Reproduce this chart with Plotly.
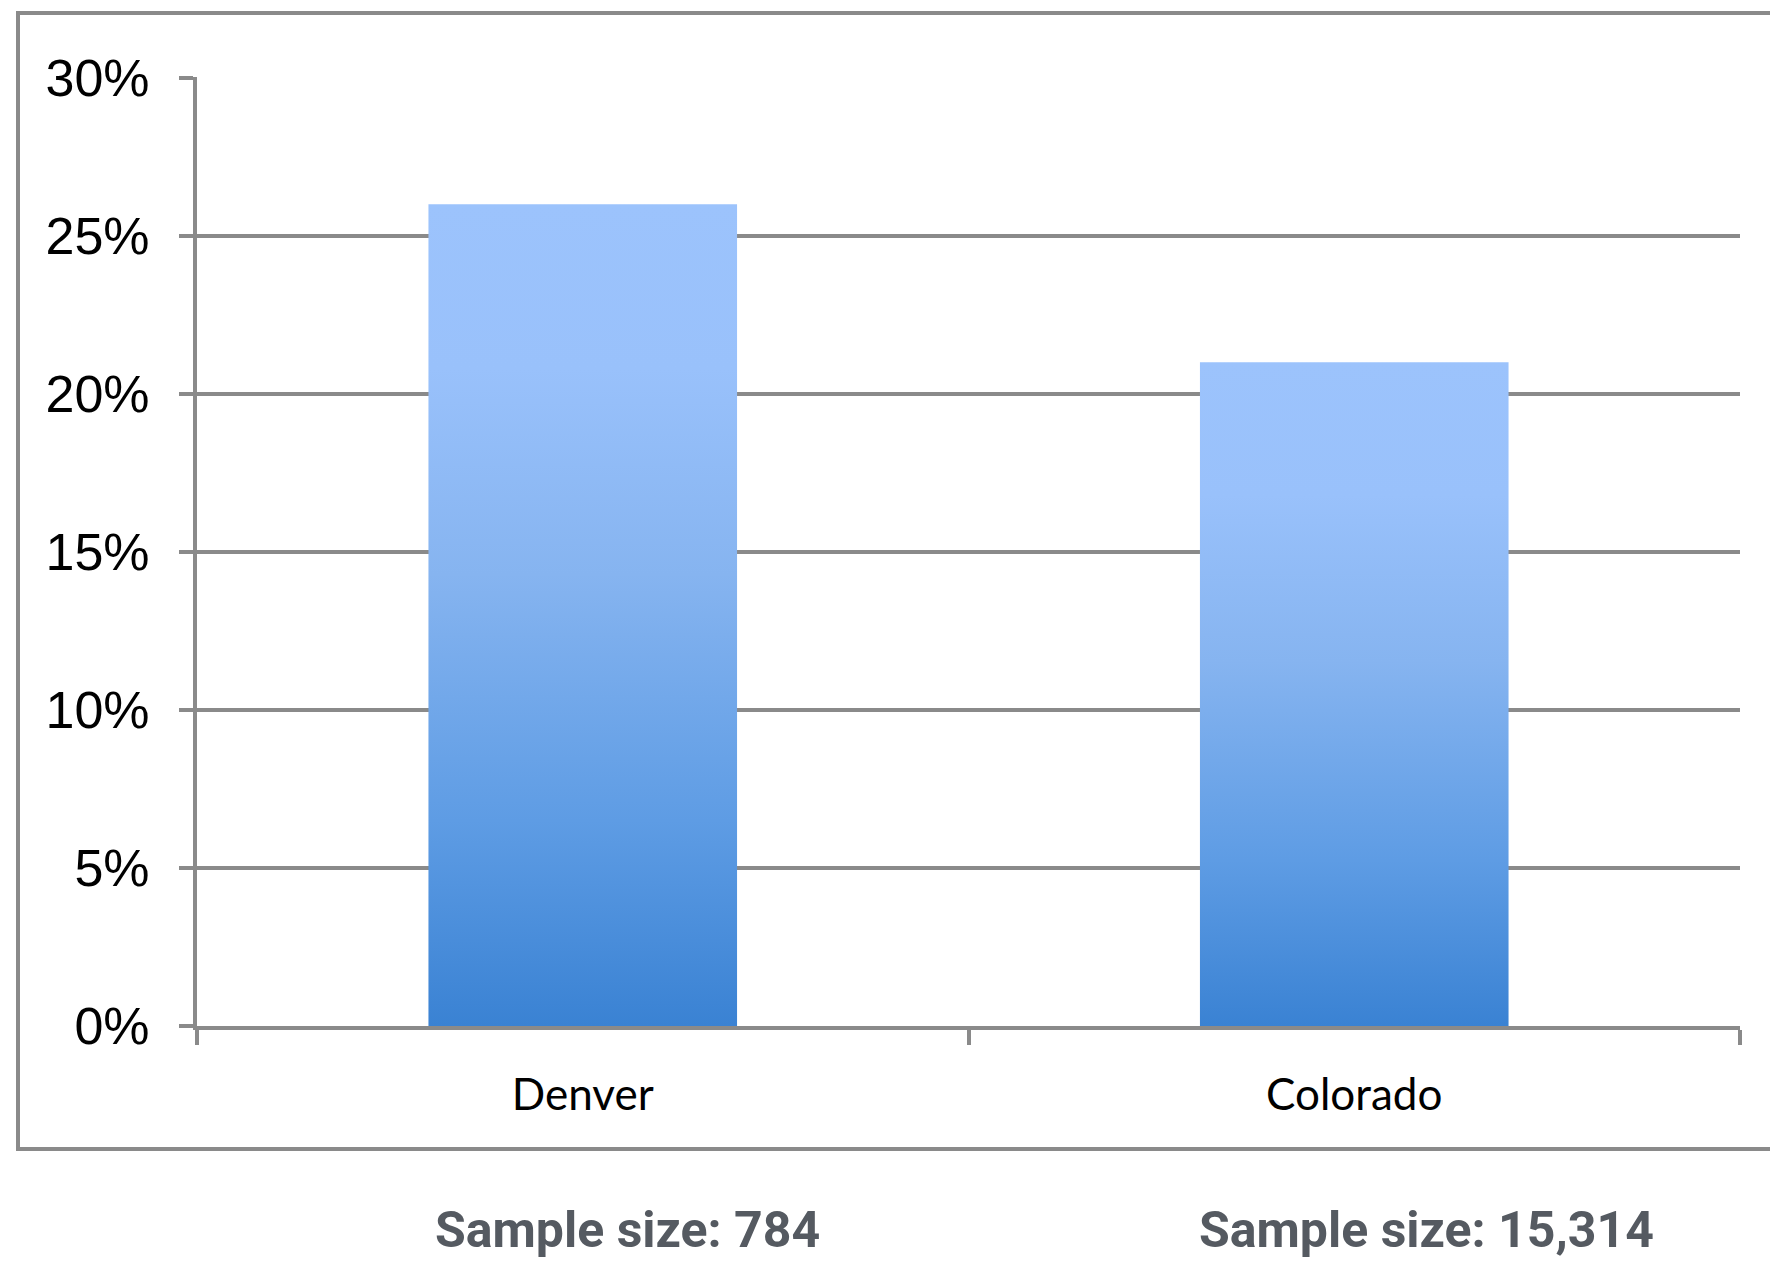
import plotly.graph_objects as go

# ---- data ----
categories = ["Denver", "Colorado"]
values = [26.0, 21.0]
sample_sizes = ["784", "15,314"]
y_ticks = [0, 5, 10, 15, 20, 25, 30]
y_tick_labels = [f"{v}%" for v in y_ticks]

OFF = 8  # page body margin
PW, PH = 1778, 1263
W, H = PW - OFF, PH - OFF
L, R, T, B = 197, 38, 77, 237   # in page pixels
pw, ph = PW - L - R, PH - T - B

def px_x(px):
    return (px - L) / pw

def px_y(py):
    return (PH - B - py) / ph

GRAY = "#8a8a8a"
bar_half = 0.2
grad = [[0.0, "#3a82d3"], [0.25, "#5e9ce4"], [0.55, "#86b4f0"], [0.8, "#99c1fb"], [1.0, "#9cc3fc"]]

fig = go.Figure()
for i, (c, v) in enumerate(zip(categories, values)):
    xs = [i - bar_half, i + bar_half, i + bar_half, i - bar_half, i - bar_half]
    ys = [0, 0, v, v, 0]
    fig.add_trace(go.Scatter(
        x=xs, y=ys, mode="lines", fill="toself",
        line=dict(width=0, color="rgba(0,0,0,0)"),
        fillgradient=dict(type="vertical", colorscale=grad, start=0, stop=v),
        name=c, hoverinfo="skip", showlegend=False,
    ))

fig.update_xaxes(
    range=[-0.5, len(categories) - 0.5],
    tickvals=list(range(len(categories))), ticktext=categories,
    ticks="", showgrid=False, zeroline=False,
    showline=True, linecolor=GRAY, linewidth=4,
    tickfont=dict(family="Lato", size=44, color="black"),
    ticklabelstandoff=27,
    minor=dict(tickvals=[i - 0.5 for i in range(len(categories) + 1)],
               ticks="outside", ticklen=15, tickwidth=4, tickcolor=GRAY, showgrid=False),
)
fig.update_yaxes(
    range=[0, 30.03], tickvals=y_ticks, ticktext=y_tick_labels,
    ticks="outside", ticklen=14, tickwidth=4, tickcolor=GRAY,
    showgrid=True, gridcolor=GRAY, gridwidth=4, zeroline=False,
    showline=True, linecolor=GRAY, linewidth=4,
    tickfont=dict(family="Liberation Sans", size=52, color="black"),
    ticklabelstandoff=19,
)

# outer frame (open on the right)
fl, ft, fb, fr = px_x(18), px_y(13), px_y(1149), px_x(1800)
fig.add_shape(type="path", xref="paper", yref="paper",
              path=f"M {fr} {fb} L {fl} {fb} L {fl} {ft} L {fr} {ft}",
              line=dict(color=GRAY, width=4))

for cx, s in zip([627, 1426], sample_sizes):
    fig.add_annotation(xref="paper", yref="paper", x=px_x(cx), y=px_y(1230),
                       text=f"<b>Sample size: {s}</b>", showarrow=False,
                       xanchor="center", yanchor="middle",
                       font=dict(family="Liberation Sans Narrow, Roboto", size=50, color="#555a61"))

fig.update_layout(
    width=W, height=H,
    margin=dict(l=L - OFF, r=R, t=T - OFF, b=B, pad=0),
    paper_bgcolor="white", plot_bgcolor="white", showlegend=False,
)
fig.write_html("out.html")
